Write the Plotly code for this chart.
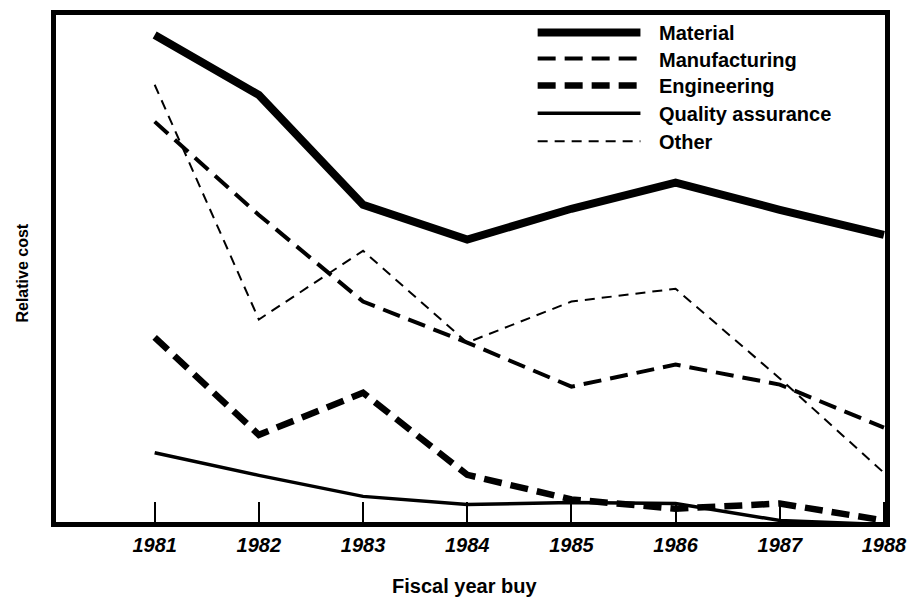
import plotly.graph_objects as go

# ---------------------------------------------------------------------------
# Dados (custo relativo em escala arbitrária 0-100)
# ---------------------------------------------------------------------------

ANOS = [1981, 1982, 1983, 1984, 1985, 1986, 1987, 1988]

MATERIAL = [95.5, 83.8, 62.4, 55.6, 61.6, 66.7, 61.4, 56.5]
MANUFACTURING = [78.6, 60.4, 43.5, 35.5, 26.9, 31.2, 27.3, 18.9]
ENGINEERING = [36.5, 17.5, 25.7, 9.7, 4.9, 3.1, 4.1, 0.8]
QUALITY = [14.0, 9.6, 5.5, 3.9, 4.3, 4.1, 0.8, 0.0]
OTHER = [85.8, 40.0, 53.4, 35.5, 43.5, 46.0, 28.5, 10.1]

SERIES = ["Material", "Manufacturing", "Engineering", "Quality assurance", "Other"]
TICK_LABELS = [str(a) for a in ANOS]

# estilo de cada série: (largura, dash)
ESTILOS = {
    "Material": (8, "solid"),
    "Manufacturing": (4, "18px,9px"),
    "Engineering": (6.5, "18px,9px"),
    "Quality assurance": (3.5, "solid"),
    "Other": (2, "10px,7px"),
}

FONTE = "Liberation Sans, Arial, sans-serif"

fig = go.Figure()
for nome, valores in zip(SERIES, [MATERIAL, MANUFACTURING, ENGINEERING, QUALITY, OTHER]):
    largura, dash = ESTILOS[nome]
    fig.add_trace(go.Scatter(
        x=ANOS,
        y=valores,
        mode="lines",
        name=nome,
        line=dict(color="black", width=largura, dash=dash),
        showlegend=False,
    ))

# legenda desenhada à mão (amostras longas como no original)
LEG_Y = [0.9655, 0.914, 0.861, 0.806, 0.751]
for nome, yy in zip(SERIES, LEG_Y):
    largura, dash = ESTILOS[nome]
    fig.add_shape(
        type="line", xref="paper", yref="paper",
        x0=0.581, x1=0.705, y0=yy, y1=yy,
        line=dict(color="black", width=largura, dash=dash),
    )
    fig.add_annotation(
        x=0.725, y=yy, xref="paper", yref="paper",
        text=f"<b>{nome}</b>", showarrow=False, xanchor="left", yanchor="middle",
        yshift=-1,
        font=dict(family=FONTE, size=20, color="black"),
    )

# títulos dos eixos
fig.add_annotation(
    x=0.493, y=-0.126, xref="paper", yref="paper",
    text="<b>Fiscal year buy</b>", showarrow=False,
    xanchor="center", yanchor="middle",
    font=dict(family=FONTE, size=20, color="black"),
)
fig.add_annotation(
    x=-0.0398, y=0.49, xref="paper", yref="paper",
    text="<b>Relative cost</b>", showarrow=False, textangle=-90,
    xanchor="center", yanchor="middle",
    font=dict(family=FONTE, size=16, color="black"),
)

fig.update_layout(
    width=912,
    height=602,
    plot_bgcolor="white",
    paper_bgcolor="white",
    margin=dict(l=56, r=27, t=15, b=80),
    showlegend=False,
    font=dict(family=FONTE, color="black"),
    xaxis=dict(
        range=[1980.053, 1988.01],
        tickvals=ANOS,
        ticktext=TICK_LABELS,
        ticks="inside",
        ticklen=20,
        tickwidth=2,
        tickcolor="black",
        ticklabelstandoff=1,
        ticklabeloverflow="allow",
        showgrid=False,
        zeroline=False,
        showline=True,
        linecolor="black",
        linewidth=5,
        mirror=True,
        automargin=False,
        tickfont=dict(family=FONTE, size=20, color="black", weight="bold", style="italic"),
    ),
    yaxis=dict(
        range=[0.5, 99.4],
        showticklabels=False,
        ticks="",
        showgrid=False,
        zeroline=False,
        showline=True,
        linecolor="black",
        linewidth=5,
        mirror=True,
        automargin=False,
    ),
)

# sem margem no body, para a figura ocupar a janela inteira
fig.write_html(
    "out.html",
    config={"displayModeBar": False},
    post_script="document.body.style.margin = '0';",
)
